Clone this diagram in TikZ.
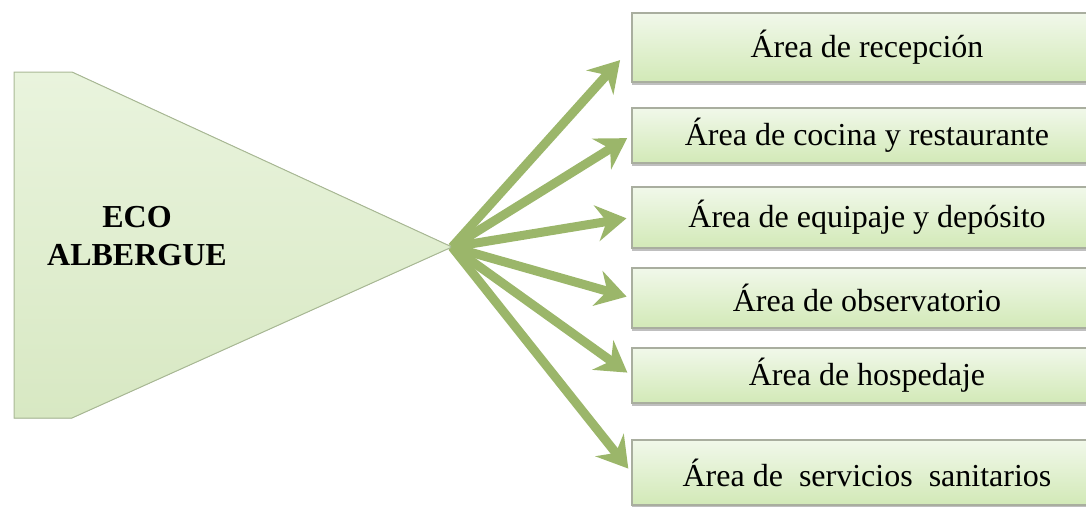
\documentclass[tikz,border=0pt]{standalone}
\usepackage{fontspec}
\setmainfont{Liberation Serif}
\usetikzlibrary{positioning,arrows.meta,shadows}
\definecolor{hoja}{HTML}{9BB66A}
\definecolor{punta}{HTML}{E0EFCF}
\definecolor{puntaborde}{HTML}{A9B995}
\definecolor{cajaarriba}{HTML}{F1F8EA}
\definecolor{cajaabajo}{HTML}{D2E9B7}
\definecolor{cajaborde}{HTML}{A9AE9F}

\begin{document}
\begin{tikzpicture}[x=1pt,y=-1pt,on grid,
   area/.style={draw=cajaborde,line width=1.2pt,top color=cajaarriba,bottom color=cajaabajo,
     minimum width=470pt,inner sep=0pt,font=\fontsize{32}{38}\selectfont,
     drop shadow={shadow xshift=0pt,shadow yshift=-2.5pt,opacity=.5}},
   rama/.style={hoja,line width=9pt,-{Stealth[length=30pt,width=36pt,inset=10pt]},shorten >=5pt}]
   \useasboundingbox (0,0) rectangle (1086,506);
   \clip (0,0) rectangle (1086,506);
   % punta de flecha con el nombre
   \coordinate (hub) at (452,247);
   \filldraw[draw=puntaborde,line width=1pt,top color=punta!70!white,bottom color=punta!88!hoja]
     (14,72) -- (72,72) -- (hub) -- (72,418) -- (14,418) -- cycle;
   \node[font=\fontsize{32}{38}\selectfont\bfseries,align=center] (eco) at (137,236) {ECO\\ALBERGUE};
   % areas
   \node[area,minimum height=69pt] (r1) at (867,47.5) {Área de recepción};
   \node[area,minimum height=55pt] (r2) [below=88pt of r1] {Área de cocina y restaurante};
   \node[area,minimum height=61pt] (r3) [below=82pt of r2] {Área de equipaje y depósito};
   \node[area,minimum height=60pt] (r4) [below=80.5pt of r3] {Área de observatorio};
   \node[area,minimum height=55pt] (r5) [below=77.5pt of r4] {Área de hospedaje};
   \node[area,minimum height=65pt] (r6) [below=97pt of r5] {Área de~ servicios~ sanitarios};
   \path
    (hub) edge [rama,shorten >=17pt] (r1.west)
          edge [rama] (r2.west)
          edge [rama] (r3.west)
          edge [rama] (r4.west)
          edge [rama] (r5.west)
          edge [rama] (r6.west);
\end{tikzpicture}
\end{document}
